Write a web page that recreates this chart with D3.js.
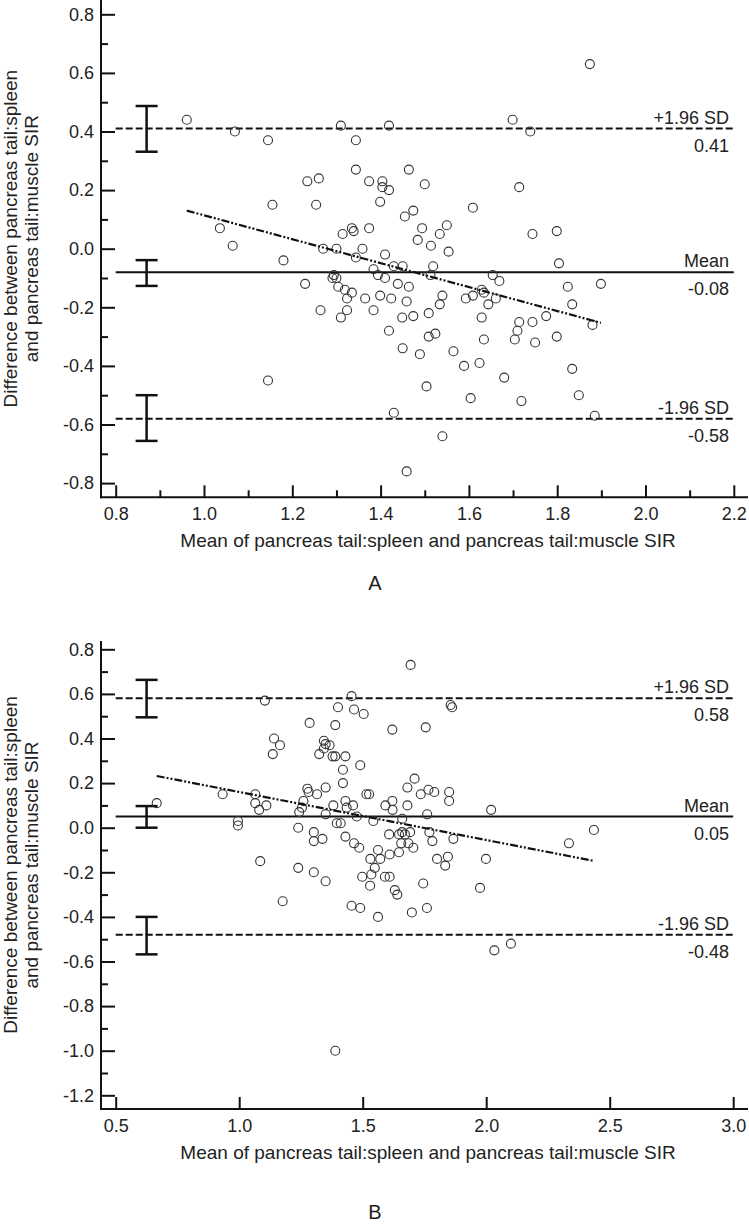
<!DOCTYPE html>
<html>
<head>
<meta charset="utf-8">
<title>Bland-Altman plots</title>
<script src="https://d3js.org/d3.v7.min.js"></script>
<style>
  body { margin: 0; background: #fff; }
  svg text { font-family: "Liberation Sans", Arial, sans-serif; fill: #222; }
</style>
</head>
<body>
<svg id="chart" width="749" height="1225"></svg>
<script>
// panel A: mean of the two SIRs (x) vs their difference (y)
var pointsA = [
  [0.961,0.44],[1.07,0.40],[1.036,0.07],[1.065,0.01],
  [1.145,0.37],[1.31,0.42],[1.419,0.42],[1.344,0.37],[1.344,0.27],[1.464,0.27],[1.234,0.23],[1.26,0.24],
  [1.374,0.23],[1.404,0.23],[1.404,0.21],[1.419,0.20],[1.50,0.22],[1.399,0.16],[1.155,0.15],[1.254,0.15],
  [1.609,0.14],[1.455,0.11],[1.474,0.13],[1.18,-0.04],[1.335,0.07],[1.339,0.06],[1.314,0.05],[1.374,0.07],
  [1.494,0.07],[1.55,0.08],[1.534,0.05],[1.484,0.03],[1.514,0.01],[1.554,-0.01],[1.27,0.0],[1.30,0.0],
  [1.359,0.0],[1.344,-0.03],[1.41,-0.02],[1.384,-0.07],[1.43,-0.06],[1.45,-0.06],[1.519,-0.06],[1.394,-0.09],
  [1.41,-0.10],[1.513,-0.09],[1.291,-0.10],[1.30,-0.10],[1.294,-0.09],[1.229,-0.12],[1.439,-0.12],[1.464,-0.13],
  [1.304,-0.13],[1.319,-0.14],[1.335,-0.15],[1.324,-0.17],[1.365,-0.17],[1.399,-0.16],[1.424,-0.17],[1.459,-0.18],
  [1.54,-0.16],[1.534,-0.19],[1.509,-0.22],[1.474,-0.23],[1.449,-0.235],[1.384,-0.21],[1.324,-0.21],[1.264,-0.21],
  [1.31,-0.235],[1.654,-0.09],[1.669,-0.11],[1.629,-0.14],[1.634,-0.15],[1.609,-0.16],[1.593,-0.17],[1.644,-0.19],
  [1.661,-0.17],[1.629,-0.235],
  [1.419,-0.28],[1.509,-0.30],[1.524,-0.29],[1.634,-0.31],[1.45,-0.34],[1.489,-0.36],[1.565,-0.35],[1.589,-0.40],
  [1.624,-0.39],[1.145,-0.45],[1.504,-0.47],[1.604,-0.51],[1.43,-0.56],[1.54,-0.64],[1.459,-0.76],
  [1.874,0.63],[1.699,0.44],[1.739,0.40],[1.714,0.21],[1.744,0.05],[1.799,0.06],[1.804,-0.05],[1.824,-0.13],
  [1.899,-0.12],[1.834,-0.19],[1.775,-0.23],
  [1.714,-0.25],[1.744,-0.25],[1.88,-0.26],[1.71,-0.28],[1.704,-0.31],[1.75,-0.32],[1.799,-0.30],[1.68,-0.44],
  [1.834,-0.41],[1.849,-0.50],[1.719,-0.52],[1.885,-0.57]
];

// panel B
var pointsB = [
  [0.666,0.11],[0.933,0.15],[0.995,0.03],[0.995,0.01],
  [1.694,0.73],[1.455,0.59],[1.104,0.57],[1.856,0.55],[1.862,0.54],[1.40,0.54],[1.465,0.53],[1.504,0.51],
  [1.285,0.47],[1.389,0.46],[1.62,0.44],[1.755,0.45],[1.141,0.40],[1.165,0.37],[1.136,0.33],[1.343,0.39],
  [1.35,0.375],[1.366,0.37],[1.343,0.355],[1.324,0.33],[1.378,0.32],[1.389,0.32],[1.43,0.32],[1.49,0.28],
  [1.42,0.26],[1.71,0.22],[1.42,0.20],[1.681,0.18],[1.766,0.17],[1.79,0.16],[1.85,0.16],[1.85,0.12],
  [1.735,0.15],[1.276,0.175],[1.281,0.16],[1.315,0.15],[1.35,0.18],[1.065,0.15],[1.065,0.11],[1.11,0.10],
  [1.081,0.08],[1.26,0.12],[1.254,0.09],[1.243,0.07],[1.35,0.06],[1.381,0.10],[1.43,0.12],[1.435,0.09],
  [1.461,0.10],[1.515,0.15],[1.526,0.15],[1.476,0.05],[1.592,0.10],[1.62,0.12],[1.621,0.08],[1.681,0.10],
  [1.761,0.06],[2.02,0.08],[1.395,0.02],[1.411,0.02],[1.543,0.03],[1.66,0.04],[1.239,0.0],[1.302,-0.02],
  [1.302,-0.06],[1.337,-0.05],[1.43,-0.04],[1.465,-0.07],[1.486,-0.09],[1.607,-0.03],[1.647,-0.03],[1.66,-0.02],
  [1.671,-0.03],[1.692,-0.02],[1.656,-0.07],[1.685,-0.07],[1.705,-0.09],[1.647,-0.11],[1.77,-0.02],[1.782,-0.06],
  [1.867,-0.05],[1.562,-0.10],[1.609,-0.12],[1.571,-0.14],[1.531,-0.14],[1.549,-0.18],[1.535,-0.21],[1.498,-0.22],
  [1.53,-0.26],[1.59,-0.22],[1.609,-0.22],[1.63,-0.28],[1.64,-0.30],[1.801,-0.14],[1.845,-0.13],[1.834,-0.17],
  [1.999,-0.14],[1.745,-0.25],[1.975,-0.27],[1.085,-0.15],[1.239,-0.18],[1.302,-0.20],[1.35,-0.24],[1.176,-0.33],
  [1.455,-0.35],[1.49,-0.36],[1.562,-0.40],[1.699,-0.38],[1.76,-0.36],
  [2.033,-0.55],[1.389,-1.0],[2.10,-0.52],[2.436,-0.01],[2.335,-0.07]
];

var limitNames = ["+1.96 SD", "Mean", "-1.96 SD"];
var limitsA = [0.41, -0.08, -0.58];
var limitsB = [0.58, 0.05, -0.48];

// 95% CI bars drawn left of the data
var ciA = [[0.331, 0.487], [-0.127, -0.039], [-0.656, -0.50]];
var ciB = [[0.495, 0.663], [0.0, 0.097], [-0.568, -0.40]];
var ciXA = 0.87, ciXB = 0.625;

// regression line end points
var regA = [[0.961, 0.13], [1.899, -0.253]];
var regB = [[0.666, 0.232], [2.436, -0.149]];

var xTicksA = [0.8, 1.0, 1.2, 1.4, 1.6, 1.8, 2.0, 2.2];
var xMinorA = [0.9, 1.1, 1.3, 1.5, 1.7, 1.9, 2.1];
var yTicksA = [-0.8, -0.6, -0.4, -0.2, 0.0, 0.2, 0.4, 0.6, 0.8];
var yMinorA = [-0.7, -0.5, -0.3, -0.1, 0.1, 0.3, 0.5, 0.7];

var xTicksB = [0.5, 1.0, 1.5, 2.0, 2.5, 3.0];
var xMinorB = [];
var yTicksB = [-1.2, -1.0, -0.8, -0.6, -0.4, -0.2, 0.0, 0.2, 0.4, 0.6, 0.8];
var yMinorB = [-1.1, -0.9, -0.7, -0.5, -0.3, -0.1, 0.1, 0.3, 0.5, 0.7];

var xTitle = "Mean of pancreas tail:spleen and pancreas tail:muscle SIR";
var yTitle = ["Difference between pancreas tail:spleen", "and pancreas tail:muscle SIR"];

var svg = d3.select("#chart");

function drawPanel(p) {
  var g = svg.append("g");
  var x = d3.scaleLinear().domain(p.xDomain).range(p.xRange);
  var y = d3.scaleLinear().domain(p.yDomain).range(p.yRange);
  var left = 101, right = 748;

  // major / minor ticks pointing inwards
  g.append("g").attr("transform", "translate(" + left + ",0)")
    .call(d3.axisLeft(y).tickValues(p.yTicks).tickSize(-14).tickPadding(7)
      .tickFormat(function(d){ return d.toFixed(1); }));
  g.append("g").attr("transform", "translate(" + left + ",0)")
    .call(d3.axisLeft(y).tickValues(p.yMinor).tickSize(-7).tickFormat(""));
  g.append("g").attr("transform", "translate(0," + p.axisBottom + ")")
    .call(d3.axisBottom(x).tickValues(p.xTicks).tickSize(-12).tickPadding(10)
      .tickFormat(function(d){ return d.toFixed(1); }));
  g.append("g").attr("transform", "translate(0," + p.axisBottom + ")")
    .call(d3.axisBottom(x).tickValues(p.xMinor).tickSize(-7).tickFormat(""));
  g.selectAll(".domain").remove();
  g.selectAll(".tick line").attr("stroke", "#111").attr("stroke-width", 2);
  g.selectAll(".tick text").attr("font-size", 18).style("fill", "#222");

  g.append("line").attr("x1", left).attr("x2", left)
    .attr("y1", p.axisTop).attr("y2", p.axisBottom + 1)
    .attr("stroke", "#111").attr("stroke-width", 2);
  g.append("line").attr("x1", left - 1).attr("x2", right)
    .attr("y1", p.axisBottom).attr("y2", p.axisBottom)
    .attr("stroke", "#111").attr("stroke-width", 2);

  // mean and limits of agreement
  var x0 = x(p.xTicks[0]), x1 = x(p.xTicks[p.xTicks.length - 1]);
  p.limits.forEach(function(v, i) {
    g.append("line").attr("x1", x0).attr("x2", x1)
      .attr("y1", y(v)).attr("y2", y(v))
      .attr("stroke", "#111").attr("stroke-width", 2)
      .attr("stroke-dasharray", i === 1 ? null : "7,3");
    g.append("text").attr("x", 729).attr("y", y(v) - 5)
      .attr("text-anchor", "end").attr("font-size", 18).text(limitNames[i]);
    g.append("text").attr("x", 729).attr("y", y(v) + 23)
      .attr("text-anchor", "end").attr("font-size", 18).text(v.toFixed(2));
  });

  // confidence interval bars
  var cx = x(p.ciX);
  p.ci.forEach(function(c) {
    var bar = g.append("g").attr("stroke", "#111").attr("stroke-width", 2.5);
    bar.append("line").attr("x1", cx).attr("x2", cx).attr("y1", y(c[0])).attr("y2", y(c[1]));
    bar.append("line").attr("x1", cx - 11).attr("x2", cx + 11).attr("y1", y(c[0])).attr("y2", y(c[0]));
    bar.append("line").attr("x1", cx - 11).attr("x2", cx + 11).attr("y1", y(c[1])).attr("y2", y(c[1]));
  });

  g.selectAll("circle.pt").data(p.points).enter().append("circle")
    .attr("class", "pt")
    .attr("cx", function(d){ return x(d[0]); })
    .attr("cy", function(d){ return y(d[1]); })
    .attr("r", 4.5)
    .attr("fill", "none").attr("stroke", "#333").attr("stroke-width", 1.1);

  g.append("path").datum(p.reg)
    .attr("d", d3.line().x(function(d){ return x(d[0]); }).y(function(d){ return y(d[1]); }))
    .attr("fill", "none").attr("stroke", "#111").attr("stroke-width", 2.2)
    .attr("stroke-dasharray", "8,2,2,2,2,2");

  // titles
  var yc = (p.axisTop + p.axisBottom) / 2 - 10;
  yTitle.forEach(function(t, i) {
    g.append("text").attr("transform", "translate(" + (17 + i * 21) + "," + yc + ") rotate(-90)")
      .attr("text-anchor", "middle").attr("font-size", 19).text(t);
  });
  g.append("text").attr("x", 428).attr("y", p.axisBottom + 50)
    .attr("text-anchor", "middle").attr("font-size", 19).text(xTitle);
  g.append("text").attr("x", 375).attr("y", p.letterY)
    .attr("text-anchor", "middle").attr("font-size", 20).text(p.letter);
}

drawPanel({
  points: pointsA, limits: limitsA, ci: ciA, ciX: ciXA, reg: regA,
  xTicks: xTicksA, xMinor: xMinorA, yTicks: yTicksA, yMinor: yMinorA,
  xDomain: [0.8, 2.2], xRange: [115.7, 733.8],
  yDomain: [-0.8, 0.8], yRange: [483.1, 14.3],
  axisTop: 0, axisBottom: 497.3, letter: "A", letterY: 590
});

drawPanel({
  points: pointsB, limits: limitsB, ci: ciB, ciX: ciXB, reg: regB,
  xTicks: xTicksB, xMinor: xMinorB, yTicks: yTicksB, yMinor: yMinorB,
  xDomain: [0.5, 3.0], xRange: [115.7, 733.2],
  yDomain: [-1.2, 0.8], yRange: [1095.3, 649.3],
  axisTop: 641, axisBottom: 1109, letter: "B", letterY: 1219
});
</script>
</body>
</html>
